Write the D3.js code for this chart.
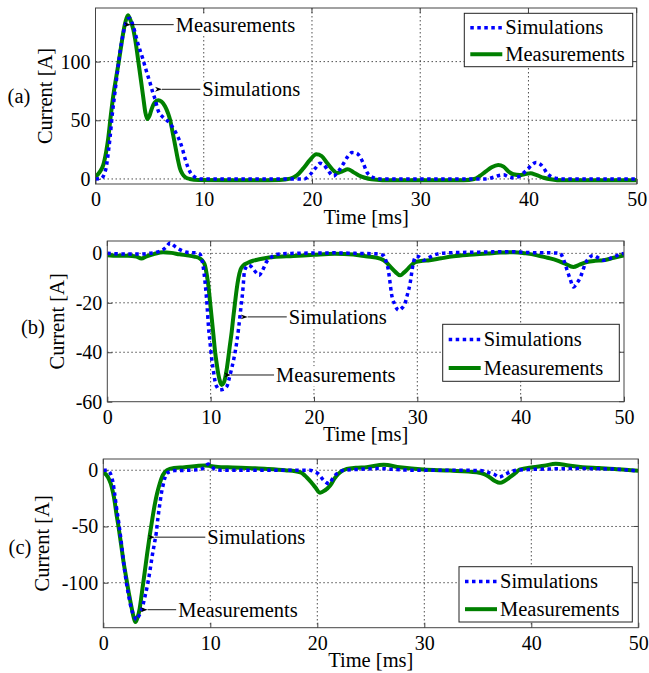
<!DOCTYPE html>
<html>
<head>
<meta charset="utf-8">
<script src="https://cdn.jsdelivr.net/npm/d3@7"></script>
<style>
  html, body { margin: 0; padding: 0; background: #fff; }
  svg { display: block; }
  text { font-family: "Liberation Serif", "Times New Roman", Tinos, "DejaVu Serif", serif; fill: #000; }
</style>
</head>
<body>
<svg id="chart" width="649" height="673"></svg>
<script>
// ---------------- DATA ----------------
const xTicks = [0, 10, 20, 30, 40, 50];
const yTicksA = [0, 50, 100];
const yTicksB = [0, -20, -40, -60];
const yTicksC = [0, -50, -100];
const seriesNames = ["Simulations", "Measurements"];
const panelLabels = ["(a)", "(b)", "(c)"];

// Panel (a): [time ms, current A]
const simA = [[0,0],[0.5,0.3],[0.8,4],[1.03,12],[1.2,24],[1.34,35],[1.55,55],[1.8,74],[2.05,93],[2.26,108],[2.5,121],[2.73,131],[3.0,136.5],[3.19,137],[3.45,131],[3.65,125],[3.9,116],[4.1,110],[4.35,103],[4.57,96],[4.8,89],[5.04,82],[5.25,75],[5.5,68],[5.8,58],[6.2,53],[6.58,50],[6.9,47],[7.2,43],[7.5,38],[7.8,32],[8.05,25],[8.27,17.5],[8.5,11],[8.73,6],[9.0,3],[9.3,1],[9.7,0],[19.3,0],[19.8,3.4],[20.3,9],[20.75,13.4],[21.1,12],[21.5,7],[22.0,2.5],[22.4,6],[22.9,13],[23.3,19],[23.7,22.5],[24.1,22],[24.4,19.5],[24.75,13],[25.06,6],[25.4,2.5],[25.8,0.8],[26.3,0],[36,0],[36.8,1.5],[37.3,3],[37.7,3.5],[38.1,2],[38.6,1],[39.1,2],[39.5,4.8],[39.9,8],[40.3,12],[40.7,14],[41.1,12.5],[41.4,9.5],[41.7,5],[42.1,2],[42.6,0.5],[43.2,0],[50,0]];
const measA = [[0,2],[0.4,6],[0.72,12],[1.0,24],[1.18,35],[1.4,53],[1.65,71.5],[1.9,86],[2.1,97],[2.35,112],[2.57,125],[2.8,135],[3.0,139.5],[3.2,136],[3.5,127],[3.75,114],[3.96,100],[4.2,84],[4.42,69],[4.6,57],[4.8,51],[5.0,54],[5.2,60],[5.45,65],[5.8,67],[6.1,66],[6.42,62],[6.7,56],[6.9,50],[7.1,41],[7.35,29],[7.6,17],[7.8,9],[8.05,4],[8.3,1.5],[8.7,0],[9.5,-0.8],[12,-1],[15,-1],[17,-0.8],[18,0.3],[18.6,3],[19.2,9],[19.8,16],[20.4,21],[20.9,19.5],[21.4,13.5],[21.9,8],[22.3,5],[22.8,6.5],[23.3,8.3],[23.8,6],[24.3,3.2],[24.9,1],[25.5,-0.3],[26.5,-1],[30,-1.2],[34,-1],[35,0],[35.5,2.5],[36.0,6],[36.6,10],[37.2,12],[37.7,10.5],[38.2,6],[38.6,4],[39.2,3.3],[39.7,4.2],[40.2,4.8],[40.7,3.5],[41.4,1],[42.2,-0.5],[43,-1.2],[47,-1.2],[50,-1.2]];

// Panel (b)
const simB = [[0,0],[1,-0.2],[2,-0.3],[3,-0.3],[4,0],[4.8,0.5],[5.4,1.5],[5.8,3],[6.07,4.3],[6.4,3.3],[6.87,1.9],[7.4,0.8],[8,0.3],[8.6,0.2],[8.97,-0.3],[9.15,-2.5],[9.3,-6],[9.43,-10.5],[9.55,-15.6],[9.67,-22],[9.78,-29],[9.94,-36],[10.1,-42.5],[10.27,-47.5],[10.43,-51.9],[10.65,-54.3],[10.9,-55.2],[11.2,-55],[11.56,-53.9],[11.8,-50.5],[12.04,-46.5],[12.3,-41.5],[12.53,-35.8],[12.7,-30.5],[12.85,-25],[12.98,-20],[13.1,-15.6],[13.18,-11.5],[13.26,-7.5],[13.45,-5.5],[13.65,-4.8],[13.9,-5.3],[14.1,-6.2],[14.4,-7.8],[14.7,-8.9],[14.9,-7.8],[15.1,-6.2],[15.4,-3.5],[15.8,-1.8],[16.1,-0.8],[16.8,-0.2],[18,0],[22,0.2],[24,0],[26,-0.2],[26.7,-0.8],[27.0,-3.5],[27.2,-6.9],[27.35,-11.5],[27.5,-16.3],[27.8,-20.5],[28.2,-23],[28.5,-22.2],[28.8,-20.3],[29.05,-16.5],[29.3,-12.2],[29.45,-8],[29.6,-4.2],[29.9,-1.2],[30.2,-1.5],[30.6,-2.8],[31,-2],[31.9,-0.3],[33,0.2],[36,0.5],[39,0.7],[41,0.3],[43,0.2],[43.8,0],[44.2,-3],[44.5,-6.9],[44.8,-10.5],[45.1,-13.6],[45.45,-12],[45.8,-9.5],[46.05,-6.5],[46.25,-4.2],[46.6,-2],[47,-0.8],[47.5,-1.8],[48,-2.8],[48.5,-2.3],[49,-1.5],[49.5,-0.6],[50,0]];
const measB = [[0,-0.8],[1,-1],[2,-1],[2.8,-1.3],[3.3,-2.1],[3.8,-1.2],[4.5,-0.3],[5.4,0.5],[6.2,0.2],[7,-0.4],[7.7,-0.8],[8.4,-1.3],[8.97,-2.1],[9.25,-3.2],[9.46,-5],[9.62,-8.5],[9.78,-13],[9.94,-19.5],[10.1,-26],[10.27,-33],[10.43,-39.8],[10.6,-45],[10.75,-49],[10.92,-52],[11.07,-53.2],[11.25,-52.5],[11.4,-50.5],[11.55,-47],[11.7,-42.5],[11.87,-37],[12.04,-31.7],[12.2,-25.5],[12.37,-19.6],[12.52,-14.5],[12.68,-10.2],[12.9,-6.5],[13.17,-4.8],[13.6,-3.8],[14.1,-3],[14.6,-2.5],[15.1,-2.1],[16.1,-1.5],[18,-1.1],[20,-0.6],[22,-0.2],[23.8,-0.5],[25,-1.2],[26.4,-2.1],[27,-3.6],[27.4,-5.5],[27.9,-7.6],[28.34,-8.9],[28.7,-7.8],[29.1,-6.2],[29.5,-4.5],[29.8,-3.5],[30.5,-3],[31.2,-2.8],[32.3,-2],[33.5,-1.2],[35,-0.6],[36.75,-0.1],[38,0.3],[39.3,0.5],[40.5,0],[41.6,-0.8],[42.6,-1.8],[43.5,-2.8],[44.3,-4.2],[45.1,-5.5],[45.7,-4.6],[46.4,-3.5],[47.2,-3],[48,-2.8],[49,-1.8],[50,-0.8]];

// Panel (c)
const simC = [[0,0],[0.35,0],[0.6,-1.8],[0.75,-5],[0.9,-10.6],[1.05,-20],[1.2,-31],[1.45,-47],[1.68,-64],[1.9,-82],[2.15,-99.5],[2.4,-113],[2.62,-123],[2.9,-130],[3.1,-133],[3.24,-131],[3.45,-127],[3.7,-120],[3.95,-110],[4.18,-99.5],[4.4,-87],[4.58,-75.7],[4.78,-65],[4.96,-55],[5.1,-43],[5.27,-31],[5.42,-21],[5.58,-13.6],[5.75,-7],[5.9,-3.2],[6.3,-1],[6.67,-0.3],[8,0],[9,0.5],[9.5,3],[9.8,5.5],[10.1,3.5],[10.5,0.5],[11,0],[15,0],[19.3,0],[19.7,-1.2],[20.1,-3.2],[20.6,-9],[21.1,-12],[21.5,-6.2],[22,-1.8],[22.5,0],[24,0.8],[25.8,1.5],[27,0.8],[29,0],[33,0],[35.2,-0.3],[36.1,-2.3],[36.6,-4],[37,-6.2],[37.4,-4.5],[37.7,-3],[38.2,-1],[38.6,0],[40,0.7],[42,1.2],[44,1.5],[47,1.2],[49,0.3],[50,-1]];
const measC = [[0,-1.8],[0.44,-6.2],[0.7,-12],[0.9,-19.5],[1.05,-27],[1.2,-37],[1.45,-52],[1.68,-67],[1.9,-82],[2.15,-96],[2.4,-110],[2.62,-121],[2.82,-130],[3.0,-135],[3.2,-131],[3.4,-123],[3.62,-108],[3.87,-90.6],[4.1,-74],[4.34,-58],[4.57,-44],[4.8,-31],[5.03,-20.5],[5.27,-12],[5.5,-5.5],[5.74,-1.8],[6.2,1.2],[7.6,2.7],[9.5,4.2],[11,2.7],[12.1,2.5],[14,1.8],[15.3,1.2],[17,0],[18.4,-1.8],[19,-6.2],[19.5,-11.5],[19.8,-15],[20.26,-20],[20.7,-18],[21.2,-13.6],[21.6,-7.5],[21.96,-3.2],[22.75,1.2],[23.6,2.2],[24.6,2.7],[26.2,4.8],[27.7,2.7],[29.9,0.6],[32.4,-0.3],[34.9,-1.8],[35.6,-3.5],[36.1,-6.2],[36.6,-9.5],[37.07,-11.2],[37.5,-9.5],[38,-6.2],[38.5,-2.5],[38.9,0.6],[40.15,2.7],[41.2,4],[42.3,5.7],[43.5,4.2],[44.8,2.7],[46.3,2],[47.8,1.2],[49.7,-0.3],[50,-0.5]];

// Annotations: [label, tip time, tip current, text start time]
const annotA = [["Measurements", 3.19, 131.5, 7.41], ["Simulations", 6.05, 76.4, 9.87]];
const annotB = [["Simulations", 13.5, -25.7, 17.56], ["Measurements", 11.88, -49.2, 16.33]];
const annotC = [["Simulations", 4.74, -59.5, 9.72], ["Measurements", 4.05, -124, 7.0]];

// ---------------- LAYOUT / STYLE ----------------
const panels = [
  { label: panelLabels[0], sim: simA, meas: measA, yTicks: yTicksA, yDomain: [-4.3, 145.7], annot: annotA,
    box: { l: 95.5, r: 636.7, t: 8, b: 184 }, ylabX: 45, plabX: 19, plabY: 96,
    legend: { x: 464.3, y: 13.3, w: 168.4, h: 53.4 } },
  { label: panelLabels[1], sim: simB, meas: measB, yTicks: yTicksB, yDomain: [-60, 5], annot: annotB,
    box: { l: 107.3, r: 624, t: 241, b: 401.7 }, ylabX: 57, plabX: 33, plabY: 327,
    legend: { x: 442.7, y: 324.3, w: 176.6, h: 57 } },
  { label: panelLabels[2], sim: simC, meas: measC, yTicks: yTicksC, yDomain: [-140, 10], annot: annotC,
    box: { l: 103.3, r: 638.3, t: 459, b: 627.7 }, ylabX: 42, plabX: 20, plabY: 547,
    legend: { x: 459, y: 566.7, w: 173.3, h: 55.3 } }
];

const BLUE = "#0000ff", GREEN = "#008000";
const FS_TICK = 20, FS_TEXT = 20.5;
const FONT = '"Liberation Serif", "Times New Roman", Tinos, "DejaVu Serif", serif';

const svg = d3.select("#chart");

svg.append("defs").append("marker")
  .attr("id", "arrowhead").attr("viewBox", "0 0 10 10")
  .attr("refX", 0).attr("refY", 5).attr("markerWidth", 10).attr("markerHeight", 7)
  .attr("markerUnits", "userSpaceOnUse").attr("orient", "auto-start-reverse")
  .append("path").attr("d", "M0,5 L10,1.5 L7,5 L10,8.5 Z").attr("fill", "#000");

panels.forEach((p, pi) => {
  const { l, r, t, b } = p.box;
  const x = d3.scaleLinear().domain([0, 50]).range([l, r]);
  const y = d3.scaleLinear().domain(p.yDomain).range([b, t]);
  const g = svg.append("g");

  g.append("rect").attr("x", l).attr("y", t).attr("width", r - l).attr("height", b - t).attr("fill", "#fff");

  // grid
  const grid = g.append("g").attr("stroke", "#222").attr("stroke-width", 0.8).attr("stroke-dasharray", "1.5,2.5");
  grid.selectAll(".gx").data(xTicks.filter(v => v > 0 && v < 50)).join("line")
    .attr("x1", d => x(d)).attr("x2", d => x(d)).attr("y1", t).attr("y2", b);
  grid.selectAll(".gy").data(p.yTicks.filter(v => y(v) > t + 1 && y(v) < b - 1)).join("line")
    .attr("x1", l).attr("x2", r).attr("y1", d => y(d)).attr("y2", d => y(d));

  // axes
  const xAxis = d3.axisBottom(x).tickValues(xTicks).tickFormat(d3.format("d")).tickSizeInner(-5).tickSizeOuter(0);
  const yAxis = d3.axisLeft(y).tickValues(p.yTicks).tickFormat(d => d < 0 ? "-" + Math.abs(d) : String(d)).tickSizeInner(-5).tickSizeOuter(0).tickPadding(5);
  const gx = g.append("g").attr("transform", `translate(0,${b})`).call(xAxis);
  const gy = g.append("g").attr("transform", `translate(${l},0)`).call(yAxis);
  [gx, gy].forEach(ax => {
    ax.attr("font-family", FONT);
    ax.select(".domain").remove();
    ax.selectAll(".tick line").attr("stroke", "#444");
    ax.selectAll(".tick text").attr("font-size", FS_TICK).attr("fill", "#000");
  });
  gx.selectAll(".tick text").attr("dy", "0.71em").attr("y", 8);
  g.append("g").selectAll("line").data(xTicks).join("line")
    .attr("x1", d => x(d)).attr("x2", d => x(d)).attr("y1", t).attr("y2", t + 5).attr("stroke", "#444");
  g.append("g").selectAll("line").data(p.yTicks).join("line")
    .attr("x1", r).attr("x2", r - 5).attr("y1", d => y(d)).attr("y2", d => y(d)).attr("stroke", "#444");

  // curves
  const line = d3.line().x(d => x(d[0])).y(d => y(d[1])).curve(d3.curveMonotoneX);
  const clipId = "clip" + pi;
  g.append("clipPath").attr("id", clipId).append("rect").attr("x", l).attr("y", t - 2).attr("width", r - l).attr("height", b - t + 4);
  const curves = g.append("g").attr("clip-path", `url(#${clipId})`);
  curves.append("path").attr("d", line(p.meas)).attr("fill", "none").attr("stroke", GREEN)
    .attr("stroke-width", 4).attr("stroke-linejoin", "round");
  curves.append("path").attr("d", line(p.sim)).attr("fill", "none").attr("stroke", BLUE)
    .attr("stroke-width", 3.5).attr("stroke-dasharray", "3.5,3.5");

  // box
  g.append("rect").attr("x", l).attr("y", t).attr("width", r - l).attr("height", b - t)
    .attr("fill", "none").attr("stroke", "#444").attr("stroke-width", 1);

  // axis labels
  g.append("text").attr("x", (l + r) / 2).attr("y", b + 25).attr("dy", "0.71em").attr("text-anchor", "middle")
    .attr("font-size", FS_TEXT).text("Time [ms]");
  g.append("text").attr("transform", `translate(${p.ylabX},${(t + b) / 2}) rotate(-90)`).attr("dy", "0.35em")
    .attr("text-anchor", "middle").attr("font-size", FS_TEXT).text("Current [A]");
  g.append("text").attr("x", p.plabX).attr("y", p.plabY).attr("dy", "0.35em").attr("text-anchor", "middle")
    .attr("font-size", FS_TEXT).text(p.label);

  // annotations
  p.annot.forEach(([label, tt, tv, ts]) => {
    const tx = x(tt), ty = y(tv), sx = x(ts);
    const txt = g.append("text").attr("x", sx).attr("y", ty).attr("dy", "0.35em").attr("font-size", FS_TEXT).text(label);
    const bb = txt.node().getBBox();
    g.insert("rect", () => txt.node()).attr("x", bb.x - 1).attr("y", bb.y + 2).attr("width", bb.width + 2).attr("height", bb.height - 2).attr("fill", "#fff");
    g.append("line").attr("x1", sx - 2).attr("y1", ty).attr("x2", tx + 1).attr("y2", ty)
      .attr("stroke", "#000").attr("stroke-width", 0.9).attr("marker-end", "url(#arrowhead)");
  });

  // legend
  const L = p.legend;
  const lg = g.append("g");
  lg.append("rect").attr("x", L.x).attr("y", L.y).attr("width", L.w).attr("height", L.h)
    .attr("fill", "#fff").attr("stroke", "#222").attr("stroke-width", 1);
  const rowH = L.h / 2;
  seriesNames.forEach((name, i) => {
    const cy = L.y + rowH * (i + 0.5) + 1;
    lg.append("line").attr("x1", L.x + 6).attr("x2", L.x + 38).attr("y1", cy).attr("y2", cy)
      .attr("stroke", i === 0 ? BLUE : GREEN).attr("stroke-width", i === 0 ? 3.5 : 4)
      .attr("stroke-dasharray", i === 0 ? "3.5,3.5" : null);
    lg.append("text").attr("x", L.x + 41).attr("y", cy).attr("dy", "0.33em").attr("font-size", FS_TEXT).text(name);
  });
});
</script>
</body>
</html>
